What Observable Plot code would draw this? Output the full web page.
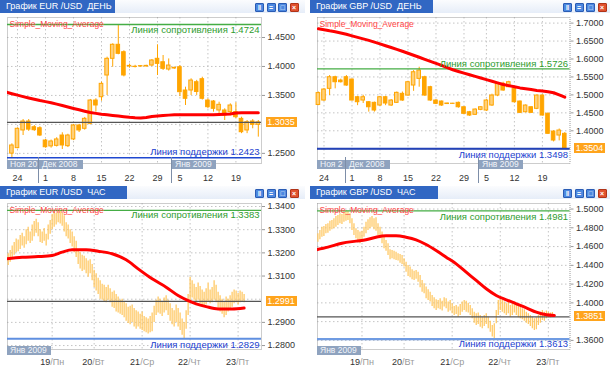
<!DOCTYPE html>
<html><head><meta charset="utf-8">
<script src="https://cdn.jsdelivr.net/npm/d3@7"></script>
<script src="https://cdn.jsdelivr.net/npm/@observablehq/plot@0.6"></script>
<style>
body{margin:0;background:#fff;font-family:"Liberation Sans",Arial,sans-serif;}
#root{position:relative;width:610px;height:372px;overflow:hidden;background:#fff;}
.win{position:absolute;height:186px;background:#fff;overflow:hidden;}
.tbar{position:absolute;left:0;top:0;right:0;height:13px;background:linear-gradient(#fbfcfe,#e6edf8);}
.ttl{position:absolute;left:0;top:0;height:13px;background:#3167c3;color:#fff;font-size:9px;line-height:13px;padding-left:6px;padding-right:3px;white-space:pre;box-sizing:border-box;}
.btn{position:absolute;top:3px;width:9px;height:9px;border-radius:1px;box-sizing:border-box;border:1px solid #2a5cb4;background:#4c88e0;color:#fff;font-size:7px;line-height:7px;text-align:center;font-weight:bold;}
.btn.x{background:#e0502e;border-color:#b03418;}
.pbox{position:absolute;height:10px;line-height:10px;background:#FFA41C;color:#fff;font-size:9px;text-align:center;}
.dbox{position:absolute;height:9px;line-height:9px;background:#8fa3bf;color:#f2f5fa;font-size:8.5px;padding-left:3px;overflow:hidden;white-space:nowrap;box-sizing:border-box;}
.sep{position:absolute;width:1px;background:#7d8ea8;}
</style></head>
<body>
<div id="root"></div>
<script>
// ---------- EUR/USD daily ----------
const eurDayOpen  = [1.2495,1.2590,1.2895,1.3050,1.2951,1.2934,1.2722,1.2620,1.2630,1.2808,1.2624,1.2740,1.2981,1.2924,1.3010,1.3412,1.3469,1.3844,1.4132,1.4374,1.4246,1.4000,1.3995,1.4005,1.4000,1.4016,1.4132,1.4073,1.3947,1.3975,1.3987,1.3585,1.3585,1.3728,1.3780,1.3412,1.3395,1.3240,1.3240,1.3211,1.3211,1.3096,1.2895,1.3050,1.2993];
const eurDayHigh  = [1.2665,1.2940,1.3084,1.3084,1.2980,1.2960,1.2740,1.2730,1.2770,1.2855,1.2830,1.3000,1.3000,1.3120,1.3430,1.3442,1.3730,1.4160,1.4391,1.4707,1.4270,1.4040,1.4020,1.4015,1.4020,1.4120,1.4374,1.4189,1.4130,1.3990,1.4016,1.3642,1.3787,1.3760,1.3814,1.3440,1.3412,1.3383,1.3269,1.3355,1.3373,1.3124,1.3067,1.3084,1.3067];
const eurDayLow   = [1.2423,1.2580,1.2808,1.2880,1.2880,1.2790,1.2590,1.2590,1.2610,1.2567,1.2600,1.2720,1.2860,1.2900,1.2990,1.3211,1.3400,1.3499,1.3987,1.4201,1.3820,1.3970,1.3975,1.3985,1.3990,1.4000,1.3844,1.3930,1.3920,1.3950,1.3480,1.3326,1.3499,1.3500,1.3420,1.3270,1.3211,1.3153,1.3067,1.3150,1.3097,1.2840,1.2840,1.2924,1.2780];
const eurDayClose = [1.2636,1.2924,1.3050,1.2910,1.2900,1.2808,1.2606,1.2705,1.2740,1.2636,1.2808,1.2981,1.2895,1.3096,1.3412,1.3326,1.3700,1.4132,1.4374,1.4218,1.3844,1.4010,1.3990,1.4000,1.4010,1.4103,1.4045,1.3959,1.4016,1.3965,1.3556,1.3442,1.3757,1.3560,1.3442,1.3297,1.3269,1.3338,1.3153,1.3326,1.3124,1.2865,1.3038,1.2993,1.3035];
// moving average, first value is one bar before the first candle
const eurDayMA = [1.3555,1.3530,1.3505,1.3480,1.3457,1.3434,1.3412,1.3393,1.3374,1.3350,1.3325,1.3300,1.3275,1.3252,1.3228,1.3205,1.3190,1.3176,1.3165,1.3155,1.3143,1.3132,1.3122,1.3115,1.3112,1.3118,1.3135,1.3143,1.3152,1.3160,1.3165,1.3165,1.3165,1.3165,1.3165,1.3165,1.3165,1.3166,1.3170,1.3175,1.3180,1.3198,1.3200,1.3200,1.3200,1.3200];
const eurDayGrid = [1.45,1.40,1.35,1.30,1.25];
const eurDayTickLabels = [1.45,1.40,1.35,1.25];
const eurDayLevels = {res:1.4724, sup:1.2423, last:1.3035};

// ---------- GBP/USD daily ----------
const gbpDayOpen  = [1.4720,1.4843,1.5169,1.5492,1.5400,1.5492,1.5428,1.4935,1.4843,1.4796,1.4779,1.4704,1.4935,1.4704,1.4779,1.5030,1.4982,1.5261,1.5447,1.5492,1.5214,1.4843,1.4815,1.4760,1.4750,1.4779,1.4656,1.4517,1.4445,1.4584,1.4565,1.4704,1.4982,1.5308,1.5214,1.5169,1.4815,1.4517,1.4656,1.4612,1.4982,1.4473,1.3979,1.3868,1.3916];
const gbpDayHigh  = [1.5080,1.5180,1.5539,1.5520,1.5440,1.5539,1.5440,1.4960,1.4990,1.4815,1.4800,1.4960,1.4960,1.4870,1.5080,1.5080,1.5380,1.5678,1.5771,1.5520,1.5240,1.4870,1.4830,1.4770,1.4765,1.4800,1.4670,1.4540,1.4610,1.4670,1.4870,1.5020,1.5340,1.5353,1.5380,1.5200,1.4830,1.4720,1.4670,1.5000,1.5000,1.4500,1.4000,1.4050,1.3950];
const gbpDayLow   = [1.4700,1.4820,1.4982,1.5169,1.5330,1.5240,1.4830,1.4700,1.4760,1.4520,1.4520,1.4680,1.4700,1.4680,1.4760,1.4820,1.4960,1.5100,1.5214,1.4960,1.4820,1.4730,1.4680,1.4735,1.4740,1.4630,1.4450,1.4400,1.4430,1.4560,1.4540,1.4680,1.4950,1.5100,1.5200,1.4770,1.4480,1.4500,1.4490,1.4590,1.4410,1.3900,1.3690,1.3720,1.3498];
const gbpDayClose = [1.5050,1.5149,1.5492,1.5353,1.5353,1.5261,1.4843,1.4796,1.4935,1.4656,1.4565,1.4935,1.4760,1.4843,1.5057,1.4843,1.5353,1.5631,1.5678,1.4982,1.4843,1.4751,1.4704,1.4745,1.4755,1.4656,1.4473,1.4425,1.4592,1.4656,1.4843,1.4982,1.5308,1.5122,1.5353,1.4796,1.4500,1.4704,1.4500,1.4982,1.4425,1.3916,1.3729,1.4007,1.3504];
const gbpDayMA = [1.6840,1.6815,1.6785,1.6760,1.6725,1.6688,1.6645,1.6603,1.6560,1.6518,1.6470,1.6420,1.6370,1.6320,1.6268,1.6215,1.6160,1.6104,1.6048,1.5990,1.5935,1.5880,1.5820,1.5760,1.5700,1.5652,1.5605,1.5560,1.5515,1.5470,1.5425,1.5380,1.5335,1.5290,1.5258,1.5227,1.5195,1.5170,1.5148,1.5125,1.5110,1.5090,1.5060,1.5000,1.4935];
const gbpDayGrid = [1.70,1.65,1.60,1.55,1.50,1.45,1.40,1.35];
const gbpDayTickLabels = [1.70,1.65,1.60,1.55,1.50,1.45,1.40];
const gbpDayLevels = {res:1.5726, sup:1.3498, last:1.3504};

// daily time axis (bar index of week starts) and month labels
const dayTickIdx = [1,6,11,16,21,26,30,35,40];
const dayTickLabels = ["24","1","8","15","22","29","5","12","19"];
const dayMonths = ["Ноя 2008","Дек 2008","Янв 2009"];
const dayMonthIdx = [null,5,28.75];

// ---------- EUR/USD hourly ----------
const eurHourHigh = [1.3196,1.3210,1.3230,1.3245,1.3260,1.3255,1.3275,1.3285,1.3270,1.3300,
1.3310,1.3290,1.3320,1.3335,1.3345,1.3330,1.3300,1.3290,1.3305,1.3280,
1.3320,1.3340,1.3365,1.3375,1.3370,1.3383,1.3378,1.3372,1.3360,1.3330,
1.3320,1.3300,1.3290,1.3270,1.3250,1.3215,1.3200,1.3190,1.3185,1.3175,
1.3165,1.3170,1.3150,1.3125,1.3110,1.3090,1.3080,1.3065,1.3060,1.3050,
1.3060,1.3045,1.3030,1.3035,1.3020,1.3010,1.2995,1.3000,1.2990,1.2980,
1.2965,1.2970,1.2975,1.2960,1.2950,1.2945,1.2935,1.2945,1.2925,1.2920,
1.2915,1.2925,1.2940,1.2970,1.2995,1.3010,1.3000,1.2990,1.3005,1.3015,
1.2995,1.2980,1.2960,1.2950,1.2975,1.2960,1.2940,1.2915,1.2900,1.2950,
1.3020,1.3095,1.3080,1.3065,1.3050,1.3070,1.3055,1.3040,1.3030,1.3045,
1.3070,1.3040,1.3050,1.3080,1.3060,1.3030,1.3015,1.3000,1.2990,1.3010,
1.3000,1.3015,1.3030,1.3040,1.3035,1.3025,1.3035,1.3030,1.3020];
const eurHourLow = [1.3145,1.3160,1.3175,1.3190,1.3200,1.3205,1.3215,1.3230,1.3220,1.3235,
1.3250,1.3240,1.3250,1.3270,1.3285,1.3270,1.3245,1.3240,1.3250,1.3230,
1.3255,1.3280,1.3300,1.3310,1.3320,1.3330,1.3325,1.3315,1.3290,1.3270,
1.3260,1.3240,1.3225,1.3200,1.3180,1.3150,1.3130,1.3120,1.3125,1.3110,
1.3095,1.3110,1.3080,1.3050,1.3035,1.3020,1.3000,1.2995,1.2990,1.2985,
1.2995,1.2985,1.2965,1.2960,1.2945,1.2940,1.2935,1.2930,1.2920,1.2905,
1.2895,1.2890,1.2900,1.2880,1.2870,1.2880,1.2870,1.2865,1.2860,1.2855,
1.2850,1.2855,1.2860,1.2900,1.2930,1.2940,1.2935,1.2925,1.2940,1.2950,
1.2930,1.2905,1.2890,1.2880,1.2900,1.2880,1.2865,1.2845,1.2829,1.2870,
1.2930,1.2990,1.3005,1.2995,1.2985,1.2995,1.2980,1.2970,1.2965,1.2975,
1.2990,1.2980,1.2985,1.2995,1.2985,1.2960,1.2945,1.2935,1.2920,1.2930,
1.2945,1.2955,1.2965,1.2980,1.2985,1.2975,1.2985,1.2990,1.2985];
const eurHourMAIdx = [-1,7,15,22,27,32,39,45,52,59,65,72,79,85,90,94,99,105,112,118];
const eurHourMA    = [1.3174,1.3181,1.3184,1.3189,1.3203,1.3213,1.3213,1.3207,1.3196,1.3170,1.3131,1.3088,1.3052,1.3016,1.2994,1.2980,1.2968,1.2958,1.2958,1.2962];
const eurHourGrid = [1.34,1.33,1.32,1.31,1.30,1.29,1.28];
const eurHourTickLabels = [1.34,1.33,1.32,1.31,1.29,1.28];
const eurHourLevels = {res:1.3383, sup:1.2829, last:1.2991};

// ---------- GBP/USD hourly ----------
const gbpHourHigh = [1.4736,1.4771,1.4807,1.4814,1.4835,1.4842,1.4871,1.4878,1.4896,1.4921,
1.4931,1.4949,1.4942,1.4967,1.4981,1.4974,1.4949,1.4896,1.4842,1.4789,
1.4771,1.4754,1.4764,1.4807,1.4860,1.4885,1.4906,1.4921,1.4896,1.4906,
1.4842,1.4807,1.4754,1.4700,1.4665,1.4629,1.4565,1.4558,1.4551,1.4540,
1.4523,1.4516,1.4505,1.4469,1.4434,1.4398,1.4381,1.4352,1.4338,1.4345,
1.4327,1.4292,1.4239,1.4203,1.4168,1.4139,1.4114,1.4079,1.4054,1.4033,
1.4026,1.4043,1.4018,1.4054,1.4043,1.4008,1.4026,1.3990,1.3962,1.3972,
1.3955,1.3983,1.4008,1.4026,1.4018,1.3997,1.3972,1.3937,1.3901,1.3883,
1.3891,1.3866,1.3848,1.3866,1.3883,1.3848,1.3805,1.3759,1.3777,1.3919,
1.4026,1.4043,1.4026,1.4008,1.3990,1.4008,1.3972,1.3990,1.4008,1.3983,
1.3962,1.3955,1.3937,1.3926,1.3901,1.3883,1.3866,1.3848,1.3830,1.3841,
1.3866,1.3901,1.3919,1.3901,1.3912,1.3901,1.3891,1.3898];
const gbpHourLow = [1.4647,1.4672,1.4700,1.4707,1.4736,1.4743,1.4764,1.4778,1.4789,1.4807,
1.4825,1.4842,1.4835,1.4860,1.4871,1.4878,1.4842,1.4771,1.4718,1.4683,
1.4665,1.4629,1.4647,1.4700,1.4736,1.4771,1.4789,1.4807,1.4778,1.4764,
1.4718,1.4683,1.4629,1.4576,1.4551,1.4505,1.4459,1.4470,1.4459,1.4452,
1.4445,1.4423,1.4409,1.4381,1.4327,1.4281,1.4267,1.4246,1.4239,1.4253,
1.4221,1.4160,1.4114,1.4097,1.4043,1.4026,1.4008,1.3962,1.3937,1.3919,
1.3937,1.3926,1.3912,1.3955,1.3937,1.3901,1.3912,1.3883,1.3866,1.3876,
1.3848,1.3866,1.3901,1.3919,1.3901,1.3891,1.3866,1.3830,1.3784,1.3759,
1.3770,1.3741,1.3724,1.3748,1.3770,1.3724,1.3688,1.3635,1.3613,1.3777,
1.3866,1.3919,1.3901,1.3883,1.3866,1.3883,1.3848,1.3866,1.3891,1.3866,
1.3841,1.3830,1.3820,1.3805,1.3784,1.3770,1.3748,1.3724,1.3706,1.3713,
1.3759,1.3784,1.3812,1.3805,1.3830,1.3841,1.3841,1.3848];
const gbpHourMAIdx = [-1,5,12,19,24,29,34,39,44,49,54,59,64,69,74,79,84,89,94,99,104,109,114,118];
const gbpHourMA    = [1.4565,1.4594,1.4636,1.4658,1.4672,1.4700,1.4715,1.4715,1.4700,1.4672,1.4622,1.4558,1.4487,1.4416,1.4327,1.4239,1.4150,1.4079,1.4033,1.3990,1.3947,1.3901,1.3873,1.3866];
const gbpHourGrid = [1.50,1.48,1.46,1.44,1.42,1.40,1.38,1.36];
const gbpHourTickLabels = [1.50,1.48,1.46,1.44,1.42,1.40,1.36];
const gbpHourLevels = {res:1.4981, sup:1.3613, last:1.3851};

// hourly time axis (bar index of day starts)
const hourTickIdx = [22,43,67,91,115];
const hourTickDays = ["19","20","21","22","23"];
const hourTickWeekdays = ["/Пн","/Вт","/Ср","/Чт","/Пт"];
const hourMonths = ["Янв 2009"];
const hourMonthIdx = [null];

const panels = [
  {left:0, top:0, w:305, frameRight:261, title:"График EUR /USD  ДЕНЬ", titleW:112, btnX:255, kind:"day",
   o:eurDayOpen, h:eurDayHigh, l:eurDayLow, c:eurDayClose, ma:eurDayMA.map((v,j)=>({i:j-1,v})),
   xDomain:[-0.786,44.57], yDomain:[1.2325,1.4845], grid:eurDayGrid, yTicks:eurDayTickLabels, lv:eurDayLevels,
   resDy:5, supDy:-6, supColor:"#1f48d0", supW:1.4, curve:"linear"},
  {left:310, top:0, w:300, frameRight:259.5, title:"График GBP /USD  ДЕНЬ", titleW:123, btnX:253, kind:"day",
   o:gbpDayOpen, h:gbpDayHigh, l:gbpDayLow, c:gbpDayClose, ma:gbpDayMA.map((v,j)=>({i:j,v})),
   xDomain:[-0.16,44.93], yDomain:[1.3089,1.7156], grid:gbpDayGrid, yTicks:gbpDayTickLabels, lv:gbpDayLevels,
   resDy:-5, supDy:6, supColor:"#2342b8", supW:2, curve:"linear"},
  {left:0, top:186, w:305, frameRight:261, title:"График EUR /USD  ЧАС", titleW:127, btnX:255, kind:"hour",
   h:eurHourHigh, l:eurHourLow, ma:eurHourMAIdx.map((i,j)=>({i,v:eurHourMA[j]})),
   xDomain:[-0.335,126.7], yDomain:[1.2783,1.3413], grid:eurHourGrid, yTicks:eurHourTickLabels, lv:eurHourLevels,
   resDy:5, supDy:6, supColor:"#5f8fe0", supW:2, curve:"monotone-x"},
  {left:310, top:186, w:300, frameRight:259.5, title:"График GBP /USD  ЧАС", titleW:128, btnX:253, kind:"hour",
   h:gbpHourHigh, l:gbpHourLow, ma:gbpHourMAIdx.map((i,j)=>({i,v:gbpHourMA[j]})),
   xDomain:[-0.2,125.8], yDomain:[1.3503,1.5059], grid:gbpHourGrid, yTicks:gbpHourTickLabels, lv:gbpHourLevels,
   resDy:6, supDy:5, supColor:"#6f9be2", supW:2.2, curve:"monotone-x"}
];

const root = document.getElementById("root");
const gridStyle = {stroke:"#c4c4c4", strokeDasharray:"1.5,2.5"};

for (const p of panels) {
  const win = document.createElement("div");
  win.className = "win";
  win.style.left = p.left + "px"; win.style.top = p.top + "px"; win.style.width = p.w + "px";
  const isDay = p.kind === "day";
  const tickIdx = isDay ? dayTickIdx : hourTickIdx;
  const marks = [
    Plot.ruleY(p.grid, gridStyle),
    Plot.ruleX(tickIdx, gridStyle),
    Plot.frame({stroke:"#9a9a9a", strokeDasharray:"1,1"}),
    Plot.axisY(p.yTicks, {anchor:"right", tickSize:3, tickPadding:3, tickFormat:d=>d.toFixed(4), label:null, fill:"#333", stroke:"#999", fontSize:9})
  ];
  if (isDay) {
    const data = p.o.map((o,i)=>({i, o, h:p.h[i], l:p.l[i], c:p.c[i]}));
    marks.push(Plot.ruleX(data, {x:"i", y1:"l", y2:"h", stroke:"#FFA500", strokeWidth:1}));
    marks.push(Plot.rect(data, {filter:d=>d.c>=d.o, x1:d=>d.i-0.32, x2:d=>d.i+0.32, y1:"o", y2:"c", fill:"#FFD079", stroke:"#FFA500", strokeWidth:1}));
    marks.push(Plot.rect(data, {filter:d=>d.c<d.o, x1:d=>d.i-0.32, x2:d=>d.i+0.32, y1:"o", y2:"c", fill:"#FFA500", stroke:"#FFA500", strokeWidth:1}));
    marks.push(Plot.text(dayTickIdx, {x:d=>d, text:(d,i)=>dayTickLabels[i], frameAnchor:"bottom", lineAnchor:"middle", dy:15, fill:"#333", fontSize:9}));
  } else {
    const data = p.h.map((h,k)=>({k, h, l:p.l[k]}));
    marks.push(Plot.ruleX(data, {x:"k", y1:"l", y2:"h", stroke:"#FFC55A", strokeWidth:1.2}));
    marks.push(Plot.text(hourTickIdx, {x:d=>d, text:(d,i)=>hourTickDays[i], frameAnchor:"bottom", lineAnchor:"middle", textAnchor:"end", dx:-2, dy:13, fill:"#333", fontSize:9}));
    marks.push(Plot.text(hourTickIdx, {x:d=>d, text:(d,i)=>hourTickWeekdays[i], frameAnchor:"bottom", lineAnchor:"middle", textAnchor:"start", dx:-2, dy:13, fill:"#999", fontSize:9}));
  }
  marks.push(Plot.ruleY([p.lv.last], {stroke:"#555", strokeWidth:1.2}));
  marks.push(Plot.ruleY([p.lv.res], {stroke:"#45ad45", strokeWidth:1.3}));
  marks.push(Plot.ruleY([p.lv.sup], {stroke:p.supColor, strokeWidth:p.supW}));
  marks.push(Plot.line(p.ma, {x:"i", y:"v", stroke:"#FF0000", strokeWidth:3, curve:p.curve, clip:true}));
  marks.push(Plot.text(["Simple_Moving_Average"], {text:d=>d, frameAnchor:"top-left", textAnchor:"start", lineAnchor:"middle", dx:2, dy:7, fill:"#ff4545", fontSize:8.5}));
  marks.push(Plot.text([p.lv.res], {y:d=>d, text:d=>"Линия сопротивления " + d.toFixed(4), frameAnchor:"right", textAnchor:"end", lineAnchor:"middle", dx:-2, dy:p.resDy, fill:"#2e9c2e", fontSize:9.5}));
  marks.push(Plot.text([p.lv.sup], {y:d=>d, text:d=>"Линия поддержки " + d.toFixed(4), frameAnchor:"right", textAnchor:"end", lineAnchor:"middle", dx:-2, dy:p.supDy, fill:"#1c3fd0", fontSize:9.5}));

  const svg = Plot.plot({
    width:p.w, height:186, marginLeft:7, marginRight:p.w - p.frameRight, marginTop:17, marginBottom:23,
    x:{domain:p.xDomain, axis:null}, y:{domain:p.yDomain, axis:null},
    style:{background:"transparent", fontFamily:"Liberation Sans, Arial, sans-serif", fontSize:"9px", color:"#333"},
    marks
  });
  svg.style.position = "absolute"; svg.style.left = "0"; svg.style.top = "0";
  win.appendChild(svg);

  const sx = svg.scale("x"), sy = svg.scale("y");
  const fx = sx.apply ? (v=>sx.apply(v)) : d3.scaleLinear(sx.domain, sx.range);
  const fy = sy.apply ? (v=>sy.apply(v)) : d3.scaleLinear(sy.domain, sy.range);

  // month boxes under the frame (the first one is cut by the next, as in the terminal)
  const months = isDay ? dayMonths : hourMonths;
  const mIdx = isDay ? dayMonthIdx : hourMonthIdx;
  const lefts = mIdx.map(v => v === null ? 7 : Math.round(fx(v)));
  months.forEach((m, j) => {
    const b = document.createElement("div");
    b.className = "dbox";
    const wNat = 44;
    const w = j + 1 < months.length ? Math.min(wNat, lefts[j+1] - lefts[j] - 1) : wNat;
    b.textContent = w >= 40 ? m : (w >= 31 ? m.slice(0, 6) : m.slice(0, 5));
    b.style.left = lefts[j] + "px"; b.style.top = "160px"; b.style.width = w + "px";
    win.appendChild(b);
    if (j > 0) {
      const s = document.createElement("div");
      s.className = "sep"; s.style.left = (lefts[j] - 1) + "px"; s.style.top = "157px"; s.style.height = "26px";
      win.appendChild(s);
    }
  });

  // current price box
  const pb = document.createElement("div");
  pb.className = "pbox"; pb.textContent = p.lv.last.toFixed(4);
  pb.style.left = (p.frameRight + 4.5) + "px"; pb.style.width = "31px";
  pb.style.top = (fy(p.lv.last) - 5) + "px";
  win.appendChild(pb);

  // title bar
  const tb = document.createElement("div"); tb.className = "tbar"; win.appendChild(tb);
  const tt = document.createElement("div"); tt.className = "ttl"; tt.textContent = p.title; tt.style.minWidth = p.titleW + "px"; win.appendChild(tt);
  ["ǁ","=","□","×"].forEach((g, j) => {
    const b = document.createElement("div");
    b.className = "btn" + (j === 3 ? " x" : "");
    b.textContent = g; b.style.left = (p.btnX + j * 11.5) + "px";
    win.appendChild(b);
  });
  root.appendChild(win);
}
</script>
</body></html>
